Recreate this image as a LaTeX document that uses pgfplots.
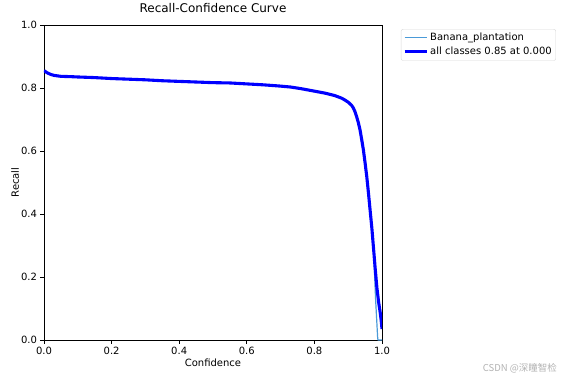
\documentclass[border=0pt]{standalone}
\usepackage{pgfplots}
\pgfplotsset{compat=1.18}
\usepackage{fontspec}
\setmainfont{DejaVu Sans}
\newfontfamily\cjk{Noto Sans CJK SC}
\definecolor{clsblue}{HTML}{4A9AD8}
\begin{document}
\begin{tikzpicture}
\begin{axis}[
  name=ax, at={(0,0)}, anchor=south west,
  scale only axis, width=338pt, height=315pt,
  xmin=0, xmax=1, ymin=0, ymax=1,
  xtick={0,0.2,0.4,0.6,0.8,1.0}, ytick={0,0.2,0.4,0.6,0.8,1.0},
  xticklabels={0.0,0.2,0.4,0.6,0.8,1.0},
  yticklabels={0.0,0.2,0.4,0.6,0.8,1.0},
  tick align=outside, major tick length=3.5pt,
  every tick/.style={line width=0.8pt, black},
  axis line style={line width=0.8pt},
  xtick pos=bottom, ytick pos=left,
  ticklabel style={font=\fontsize{10}{12}\selectfont},
  /pgf/number format/assume math mode=true,
  title={Recall-Confidence Curve},
  title style={at={(axis description cs:0.5,1)}, anchor=base, yshift=6pt, font=\fontsize{12}{14}\selectfont},
  xlabel={Confidence}, ylabel={Recall},
  xlabel style={at={(axis description cs:0.5,0)}, anchor=base, yshift=-26pt, font=\fontsize{10}{12}\selectfont},
  ylabel style={at={(axis description cs:0,0.5)}, anchor=base, yshift=25pt, font=\fontsize{10}{12}\selectfont},
  legend style={at={(axis description cs:1.056,0.987)}, anchor=north west, draw=black!15, rounded corners=2pt,
    font=\fontsize{10}{12}\selectfont, inner xsep=2pt, inner ysep=2pt, row sep=1pt},
  legend cell align=left,
  legend image code/.code={\draw[#1] (0pt,0pt) -- (22pt,0pt);},
]
\addplot[clsblue, line width=1.2pt, line join=round] coordinates {
(0,0.855) (0.01,0.848) (0.02,0.843) (0.03,0.840) (0.05,0.837) (0.08,0.836) (0.1,0.835)
(0.15,0.833) (0.2,0.830) (0.25,0.828) (0.3,0.826) (0.35,0.823) (0.4,0.821) (0.45,0.819)
(0.5,0.817) (0.55,0.816) (0.6,0.813) (0.65,0.810) (0.7,0.806) (0.73,0.803) (0.76,0.798)
(0.8,0.790) (0.83,0.784) (0.86,0.776) (0.88,0.768) (0.89,0.762) (0.9,0.755) (0.91,0.745)
(0.915,0.737) (0.92,0.725) (0.925,0.709) (0.93,0.690) (0.935,0.667) (0.94,0.636) (0.945,0.603)
(0.95,0.562) (0.955,0.518) (0.96,0.466) (0.965,0.41) (0.97,0.355) (0.975,0.29) (0.981,0.13)
(0.987,0.01) (0.988,0) (1.0,0)
};
\addlegendentry{Banana\_plantation}
\addplot[blue, line width=3.1pt, line join=round] coordinates {
(0,0.855) (0.01,0.848) (0.02,0.843) (0.03,0.840) (0.05,0.837) (0.08,0.836) (0.1,0.835)
(0.15,0.833) (0.2,0.830) (0.25,0.828) (0.3,0.826) (0.35,0.823) (0.4,0.821) (0.45,0.819)
(0.5,0.817) (0.55,0.816) (0.6,0.813) (0.65,0.810) (0.7,0.806) (0.73,0.803) (0.76,0.798)
(0.8,0.790) (0.83,0.784) (0.86,0.776) (0.88,0.768) (0.89,0.762) (0.9,0.755) (0.91,0.745)
(0.915,0.737) (0.92,0.725) (0.925,0.709) (0.93,0.690) (0.935,0.667) (0.94,0.636) (0.945,0.603)
(0.95,0.562) (0.955,0.518) (0.96,0.466) (0.965,0.41) (0.97,0.355) (0.975,0.29) (0.98,0.225)
(0.985,0.165) (0.99,0.12) (0.995,0.085) (0.998,0.058) (1.0,0.035)
};
\addlegendentry{all classes 0.85 at 0.000}
\end{axis}
\node[anchor=base east, text=black!30, font=\cjk\fontsize{9.5}{11}\selectfont, inner sep=0pt]
  at ([shift={(513pt,-31pt)}]ax.south west) {CSDN @深瞳智检};
\pgfresetboundingbox
\path[use as bounding box] ([shift={(-44pt,-38pt)}]ax.south west) rectangle ([shift={(523pt,340pt)}]ax.south west);
\end{tikzpicture}
\end{document}
